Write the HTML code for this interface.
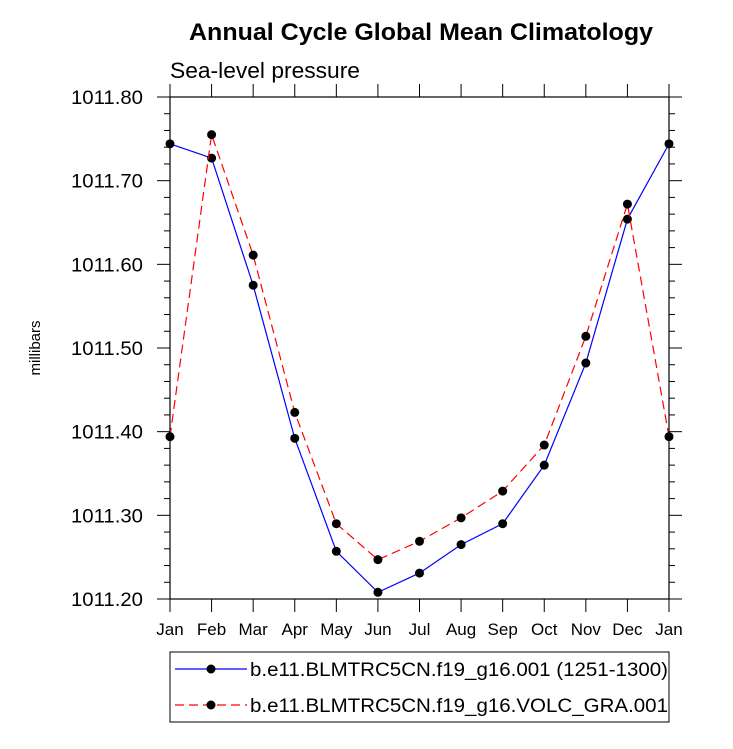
<!DOCTYPE html>
<html><head><meta charset="utf-8"><style>
body{margin:0;background:#fff}
svg{font-family:"Liberation Sans",sans-serif}
</style></head><body>
<svg id="c" width="733" height="744" xmlns="http://www.w3.org/2000/svg">
<text x="421" y="40" text-anchor="middle" font-size="24" font-weight="bold" textLength="464" lengthAdjust="spacingAndGlyphs">Annual Cycle Global Mean Climatology</text>
<text x="170" y="78" font-size="22" textLength="190" lengthAdjust="spacingAndGlyphs">Sea-level pressure</text>
<text transform="translate(40,348) rotate(-90)" text-anchor="middle" font-size="15">millibars</text>
<g id="axes"></g>
<g id="series"></g>
<g>
<rect x="170" y="652" width="499" height="70" fill="none" stroke="#000" stroke-width="1"/>
<line x1="175" y1="669" x2="247" y2="669" stroke="#00f" stroke-width="1.2"/>
<circle cx="211" cy="669" r="4.5" fill="#000"/>
<text x="250" y="676" font-size="19" textLength="418" lengthAdjust="spacingAndGlyphs">b.e11.BLMTRC5CN.f19_g16.001 (1251-1300)</text>
<line x1="175" y1="705" x2="247" y2="705" stroke="#f00" stroke-width="1.2" stroke-dasharray="9,5"/>
<circle cx="211" cy="705" r="4.5" fill="#000"/>
<text x="250" y="712" font-size="19" textLength="418" lengthAdjust="spacingAndGlyphs">b.e11.BLMTRC5CN.f19_g16.VOLC_GRA.001</text>
</g>
</svg>
<script>
const months=["Jan","Feb","Mar","Apr","May","Jun","Jul","Aug","Sep","Oct","Nov","Dec","Jan"];
const control=[1011.744,1011.727,1011.575,1011.392,1011.257,1011.208,1011.231,1011.265,1011.290,1011.360,1011.482,1011.654,1011.744];
const volc=[1011.394,1011.755,1011.611,1011.423,1011.290,1011.247,1011.269,1011.297,1011.329,1011.384,1011.514,1011.672,1011.394];
const yTicks=["1011.20","1011.30","1011.40","1011.50","1011.60","1011.70","1011.80"];
const X0=170,X1=669,Y0=599,Y1=97,ymin=1011.2,ymax=1011.8;
const NS="http://www.w3.org/2000/svg";
const xs=i=>X0+(X1-X0)*i/(months.length-1);
const ys=v=>Y0-(v-ymin)/(ymax-ymin)*(Y0-Y1);
function mk(t,a,p){const e=document.createElementNS(NS,t);for(const k in a)e.setAttribute(k,a[k]);p.appendChild(e);return e;}
const ax=document.getElementById('axes');
const fr=mk('rect',{x:X0,y:Y1,width:X1-X0,height:Y0-Y1,fill:'none',stroke:'#000','stroke-width':1.2},ax);


months.forEach((m,i)=>{const x=xs(i);
mk('line',{x1:x,y1:Y0,x2:x,y2:Y0+13,stroke:'#000'},ax);
mk('line',{x1:x,y1:Y1,x2:x,y2:Y1-13,stroke:'#000'},ax);
const t=mk('text',{x:x,y:Y0+36,'text-anchor':'middle','font-size':17},ax);t.textContent=m;

});
for(let k=0;k<=30;k++){const v=ymin+k*0.02,y=ys(v),maj=k%5==0,L=maj?13:6;
mk('line',{x1:X0,y1:y,x2:X0-L,y2:y,stroke:'#000'},ax);
mk('line',{x1:X1,y1:y,x2:X1+L,y2:y,stroke:'#000'},ax);}
yTicks.forEach(s=>{const t=mk('text',{x:X0-27,y:ys(parseFloat(s))+7,'text-anchor':'end','font-size':19,textLength:72,lengthAdjust:'spacingAndGlyphs'},ax);t.textContent=s;

});
const sg=document.getElementById('series');
function draw(d,col,dash,name){
const pl=mk('polyline',{points:d.map((v,i)=>xs(i)+','+ys(v)).join(' '),fill:'none',stroke:col,'stroke-width':1.2,'stroke-dasharray':dash},sg);


d.forEach((v,i)=>{const c=mk('circle',{cx:xs(i),cy:ys(v),r:4.5,fill:'#000'},sg);

});}
draw(control,'#00f','none','control');
draw(volc,'#f00','9,5','volc');
</script>
</body></html>
